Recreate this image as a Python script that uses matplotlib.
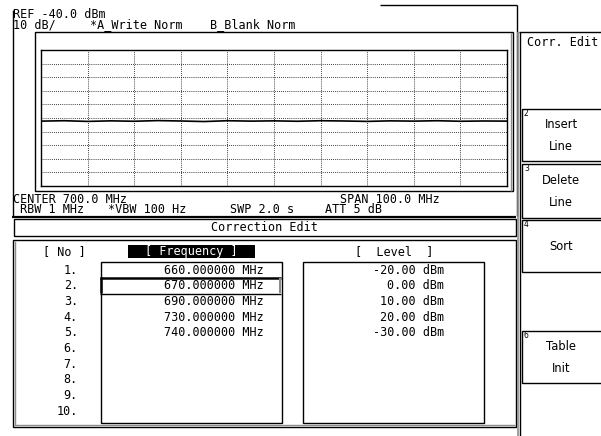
import matplotlib
matplotlib.use("Agg")
import matplotlib.pyplot as plt
from matplotlib.patches import Rectangle

# ---- data ----
trace_freq_mhz = [650, 655, 660, 665, 670, 675, 680, 685, 690, 695, 700,
                  705, 710, 715, 720, 725, 730, 735, 740, 745, 750]
trace_level_dbm = [-92.3, -92.0, -92.5, -92.1, -92.4, -91.9, -92.2, -92.6, -92.0, -92.3, -92.1,
                   -92.4, -92.0, -92.2, -92.5, -92.1, -92.3, -92.0, -92.4, -92.2, -92.3]
ref_level = -40.0
db_per_div = 10
row_numbers = ["1.", "2.", "3.", "4.", "5.", "6.", "7.", "8.", "9.", "10."]
freq_entries = ["660.000000 MHz", "670.000000 MHz", "690.000000 MHz",
                "730.000000 MHz", "740.000000 MHz"]
level_entries = ["-20.00 dBm", "0.00 dBm", "10.00 dBm", "20.00 dBm", "-30.00 dBm"]
softkeys = [("2", "Insert\nLine"), ("3", "Delete\nLine"), ("4", "Sort"), ("6", "Table\nInit")]

W, H = 601, 436
fig = plt.figure(figsize=(W / 100, H / 100), dpi=100)
ax = fig.add_axes([0, 0, 1, 1])
ax.set_xlim(0, W)
ax.set_ylim(H, 0)
ax.axis("off")

MONO = "DejaVu Sans Mono"
FS = 8.5
GRAY = "#8c8c8c"


def line(x0, y0, x1, y1, c="black", lw=1.0):
    ax.plot([x0, x1], [y0, y1], color=c, lw=lw, solid_capstyle="butt")


def box(x0, y0, x1, y1, c="black", lw=1.0, fc="none"):
    ax.add_patch(Rectangle((x0, y0), x1 - x0, y1 - y0, fill=(fc != "none"),
                           facecolor=fc if fc != "none" else "white", edgecolor=c, lw=lw))


def txt(x, y, s, ha="left", family=MONO, size=FS, color="black", **kw):
    ax.text(x, y, s, ha=ha, va="center", family=family, fontsize=size, color=color, **kw)


# ---- spectrum panel frames ----
line(12.5, 10, 12.5, 216)
line(516.5, 5, 516.5, 216)
line(380, 5.5, 516.5, 5.5)
box(34.5, 32.5, 512.5, 191.5)
line(510.5, 33, 510.5, 191, c=GRAY)

txt(13, 14, "REF -40.0 dBm")
txt(13, 24.5, "10 dB/")
txt(90, 24.5, "*A_Write Norm")
txt(210, 24.5, "B_Blank Norm")

txt(13, 199, "CENTER 700.0 MHz")
txt(340, 199, "SPAN 100.0 MHz")
txt(20, 209.5, "RBW 1 MHz")
txt(108, 209.5, "*VBW 100 Hz")
txt(230, 209.5, "SWP 2.0 s")
txt(325, 209.5, "ATT 5 dB")

# ---- graticule with trace ----
gx0, gy0, gx1, gy1 = 41, 50, 507, 186
gax = fig.add_axes([gx0 / W, 1 - gy1 / H, (gx1 - gx0) / W, (gy1 - gy0) / H])
gax.set_xlim(trace_freq_mhz[0], trace_freq_mhz[-1])
gax.set_ylim(ref_level - 10 * db_per_div, ref_level)
gax.set_xticks([650 + 10 * i for i in range(1, 10)])
gax.set_yticks([ref_level - db_per_div * i for i in range(1, 10)])
gax.grid(True, color="black", lw=0.6, ls=(0, (1, 1.5)))
gax.tick_params(length=0, labelbottom=False, labelleft=False)
for s in gax.spines.values():
    s.set_linewidth(1.0)
gax.plot(trace_freq_mhz, trace_level_dbm, color="black", lw=1.2)

# ---- Correction Edit title ----
line(12, 217, 516, 217, lw=1.6)
box(13.5, 218.5, 515.5, 235.5)
txt(264, 227, "Correction Edit", ha="center")

# ---- table panel ----
box(12.5, 239.5, 515.5, 426.5, lw=1.0)
line(14.5, 241, 14.5, 425, c=GRAY)
line(14, 425, 515, 425, c=GRAY)

txt(64, 252, "[ No ]", ha="center")
ax.add_patch(Rectangle((128, 245), 127, 13, facecolor="black", edgecolor="none"))
txt(191.5, 251.5, "[ Frequency ]", ha="center", color="white")
txt(394, 252, "[  Level  ]", ha="center")

box(100.5, 261.5, 281.5, 422.5)
box(302.5, 261.5, 483.5, 422.5)
# cursor row
line(100, 277.5, 281, 277.5, lw=1.8)
line(100, 293.5, 281, 293.5, lw=1.0)
line(101, 277, 101, 293, lw=1.8)
line(279.5, 278, 279.5, 293, c=GRAY, lw=1.5)

row_y0, row_dy = 270, 15.7
for i, n in enumerate(row_numbers):
    txt(78, row_y0 + i * row_dy, n, ha="right")
for i, f in enumerate(freq_entries):
    txt(264, row_y0 + i * row_dy, f, ha="right")
for i, l in enumerate(level_entries):
    txt(444, row_y0 + i * row_dy, l, ha="right")

# ---- softkey column ----
line(517.5, 32, 517.5, H, c=GRAY, lw=1.2)
line(519.5, 32, 519.5, H, lw=1.0)
line(519, 32.5, W, 32.5)
txt(527, 43, "Corr. Edit")

key_boxes = [(108, 160), (163, 217), (219, 271), (330, 382)]
for (num, label), (y0, y1) in zip(softkeys, key_boxes):
    box(521.5, y0 + 0.5, W + 2, y1 + 0.5)
    txt(524, y0 + 5, num, family="DejaVu Sans", size=5.5)
    ax.text(561, (y0 + y1) / 2 + 1, label, ha="center", va="center", family="DejaVu Sans",
            fontsize=8.3, linespacing=1.9)

fig.savefig("out.png", dpi=100)
